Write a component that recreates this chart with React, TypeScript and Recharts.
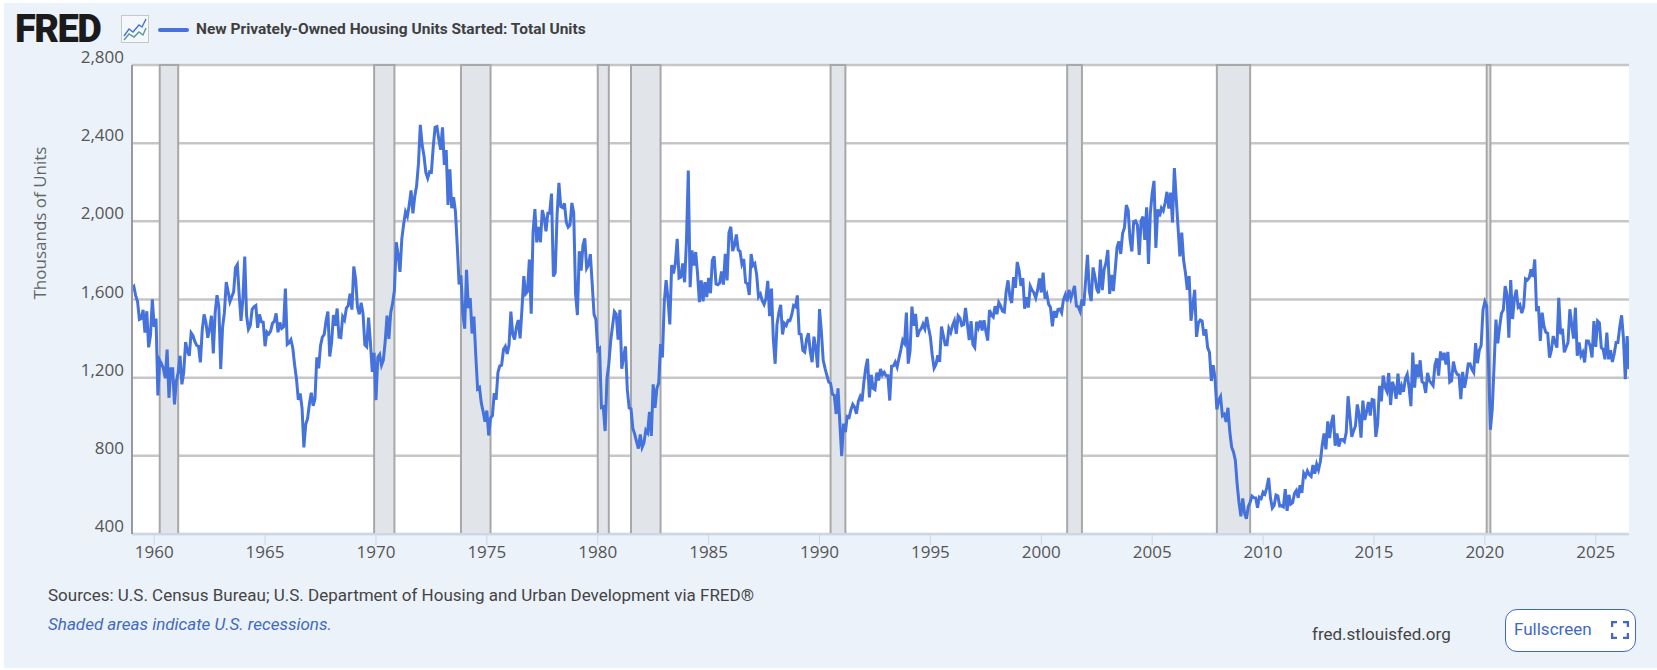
import React from 'react';
import { ComposedChart, Line, XAxis, YAxis, CartesianGrid, ReferenceArea } from 'recharts';

// monthly starts, thousands of units, Jan 1959 onward
const starts1950s = [1657, 1667, 1620, 1590, 1498, 1503, 1547, 1430, 1540, 1355, 1416, 1601];
const starts1960s = [
    1460, 1503, 1109, 1289, 1271, 1247, 1197, 1344, 1097, 1246, 1246, 1063,
    1183, 1226, 1312, 1166, 1228, 1382, 1335, 1312, 1429, 1415, 1385, 1365,
    1361, 1278, 1443, 1524, 1483, 1404, 1450, 1517, 1324, 1533, 1622, 1564,
    1244, 1456, 1534, 1689, 1641, 1588, 1614, 1639, 1763, 1779, 1622, 1491,
    1603, 1820, 1517, 1448, 1467, 1550, 1562, 1569, 1455, 1524, 1486, 1484,
    1361, 1433, 1423, 1438, 1478, 1488, 1529, 1432, 1482, 1452, 1460, 1656,
    1370, 1378, 1394, 1352, 1265, 1194, 1086, 1119, 1046, 843, 961, 990,
    1067, 1123, 1056, 1091, 1304, 1248, 1364, 1407, 1421, 1491, 1538, 1308,
    1380, 1520, 1466, 1554, 1408, 1405, 1512, 1495, 1556, 1569, 1630, 1548,
    1769, 1705, 1561, 1524, 1583, 1528, 1368, 1358, 1507, 1381, 1229, 1327,
];
const starts1970s = [
    1085, 1305, 1319, 1264, 1290, 1385, 1517, 1399, 1534, 1580, 1647, 1893,
    1828, 1741, 1910, 1986, 2049, 2026, 2083, 2158, 2041, 2128, 2182, 2295,
    2494, 2390, 2334, 2249, 2221, 2254, 2252, 2382, 2481, 2485, 2421, 2366,
    2481, 2289, 2365, 2084, 2266, 2067, 2123, 2051, 1874, 1677, 1724, 1526,
    1451, 1752, 1555, 1607, 1426, 1513, 1316, 1142, 1150, 1070, 1026, 975,
    1032, 904, 993, 1005, 1121, 1087, 1226, 1260, 1264, 1344, 1360, 1321,
    1367, 1538, 1421, 1395, 1459, 1495, 1401, 1550, 1720, 1629, 1641, 1804,
    1527, 1943, 2063, 1892, 1971, 1893, 2058, 2020, 1949, 2042, 2042, 2142,
    1718, 1738, 2032, 2197, 2075, 2070, 2092, 1996, 1970, 1981, 2094, 2044,
    1630, 1520, 1847, 1748, 1876, 1913, 1760, 1778, 1832, 1681, 1524, 1498,
];
const starts1980s = [
    1341, 1350, 1047, 1051, 927, 1196, 1269, 1387, 1463, 1538, 1526, 1395,
    1547, 1246, 1306, 1360, 1140, 1045, 1041, 940, 911, 873, 837, 910,
    843, 866, 931, 917, 1025, 902, 1166, 1046, 1144, 1173, 1372, 1303,
    1586, 1699, 1606, 1472, 1776, 1733, 1785, 1910, 1710, 1715, 1785, 1688,
    1897, 2260, 1663, 1851, 1774, 1843, 1732, 1586, 1698, 1590, 1689, 1612,
    1711, 1632, 1800, 1821, 1680, 1676, 1684, 1743, 1676, 1834, 1698, 1942,
    1972, 1848, 1876, 1933, 1854, 1847, 1782, 1807, 1687, 1681, 1623, 1833,
    1774, 1784, 1726, 1614, 1628, 1594, 1575, 1605, 1695, 1515, 1656, 1400,
    1271, 1473, 1532, 1573, 1421, 1478, 1467, 1493, 1492, 1522, 1569, 1563,
    1621, 1425, 1422, 1339, 1331, 1397, 1427, 1332, 1279, 1410, 1351, 1251,
];
const starts1990s = [
    1551, 1437, 1289, 1248, 1212, 1177, 1171, 1115, 1110, 1014, 1145, 969,
    798, 965, 921, 1001, 996, 1036, 1063, 1049, 1015, 1079, 1103, 1079,
    1176, 1250, 1297, 1099, 1214, 1145, 1139, 1226, 1186, 1244, 1214, 1227,
    1210, 1210, 1083, 1258, 1260, 1280, 1254, 1300, 1343, 1392, 1376, 1533,
    1272, 1337, 1564, 1465, 1526, 1409, 1439, 1450, 1474, 1450, 1511, 1455,
    1407, 1316, 1249, 1267, 1314, 1281, 1461, 1416, 1369, 1369, 1452, 1431,
    1467, 1491, 1424, 1516, 1504, 1467, 1472, 1557, 1475, 1392, 1489, 1370,
    1355, 1486, 1457, 1492, 1442, 1494, 1437, 1390, 1546, 1520, 1510, 1566,
    1525, 1584, 1567, 1540, 1536, 1641, 1698, 1614, 1582, 1715, 1660, 1792,
    1748, 1670, 1710, 1553, 1611, 1559, 1669, 1648, 1635, 1608, 1648, 1708,
];
const starts2000s = [
    1636, 1737, 1604, 1626, 1575, 1559, 1463, 1541, 1507, 1549, 1551, 1532,
    1600, 1625, 1590, 1649, 1605, 1636, 1670, 1567, 1562, 1540, 1602, 1568,
    1698, 1829, 1642, 1592, 1764, 1717, 1655, 1633, 1804, 1648, 1753, 1788,
    1853, 1629, 1726, 1643, 1751, 1867, 1897, 1833, 1939, 1967, 2083, 2057,
    1911, 1846, 1998, 2003, 1981, 1828, 2002, 2024, 1905, 2072, 1782, 2042,
    2144, 2207, 1864, 2061, 2025, 2068, 2054, 2095, 2151, 2065, 2147, 1994,
    2273, 2119, 1969, 1821, 1942, 1802, 1737, 1650, 1720, 1491, 1570, 1649,
    1409, 1480, 1495, 1490, 1415, 1448, 1354, 1330, 1183, 1264, 1197, 1037,
    1084, 1103, 1005, 1013, 973, 1046, 923, 844, 820, 777, 652, 560,
    490, 582, 505, 478, 540, 562, 594, 586, 585, 534, 588, 581,
];
const starts2010s = [
    614, 604, 636, 687, 585, 533, 546, 599, 594, 543, 545, 539,
    630, 518, 600, 553, 560, 608, 623, 585, 650, 610, 711, 694,
    723, 704, 695, 753, 708, 757, 728, 771, 854, 915, 833, 976,
    891, 969, 1010, 852, 915, 847, 883, 883, 873, 920, 1105, 1000,
    897, 928, 953, 1063, 1008, 893, 1083, 984, 1024, 1076, 1006, 1088,
    1085, 897, 964, 1158, 1079, 1211, 1152, 1130, 1224, 1060, 1179, 1149,
    1092, 1221, 1113, 1157, 1128, 1195, 1217, 1150, 1054, 1328, 1149, 1268,
    1203, 1289, 1179, 1172, 1122, 1225, 1185, 1172, 1159, 1265, 1299, 1210,
    1334, 1290, 1327, 1267, 1332, 1177, 1184, 1282, 1237, 1217, 1214, 1090,
    1230, 1149, 1199, 1270, 1271, 1242, 1226, 1377, 1274, 1340, 1365, 1547,
];
const starts2020s = [
    1589, 1567, 1269, 934, 1038, 1261, 1497, 1376, 1459, 1530, 1547, 1669,
    1625, 1405, 1700, 1500, 1605, 1650, 1562, 1573, 1530, 1563, 1706, 1700,
    1711, 1754, 1716, 1805, 1540, 1566, 1388, 1533, 1463, 1432, 1427, 1303,
    1340, 1413, 1380, 1354, 1609, 1422, 1451, 1330, 1356, 1380, 1550, 1470,
    1400, 1558, 1312, 1380, 1312, 1330, 1278, 1388, 1388, 1362, 1303, 1490,
    1358, 1490, 1480, 1354, 1345, 1294, 1430, 1294, 1340, 1280, 1322, 1380,
    1380, 1460, 1519, 1400, 1192, 1413, 1243,
];

const values = [...starts1950s, ...starts1960s, ...starts1970s, ...starts1980s, ...starts1990s, ...starts2000s, ...starts2010s, ...starts2020s];
const chartData = values.map((v, i) => ({ t: 1959 + i / 12, starts: v }));

const yTicks = [400, 800, 1200, 1600, 2000, 2400, 2800];
const xTicks = [1960, 1965, 1970, 1975, 1980, 1985, 1990, 1995, 2000, 2005, 2010, 2015, 2020, 2025];

const recessionStarts = [1960.25, 1969.917, 1973.833, 1980, 1981.5, 1990.5, 2001.167, 2007.917, 2020.083];
const recessionEnds = [1961.083, 1970.833, 1975.167, 1980.5, 1982.833, 1991.167, 2001.833, 2009.417, 2020.25];

const BLUE = '#4672dc';
const TICK_FONT = '"Open Sans"';

const YTick = ({ x, y, payload }: any) => (
    <text x={x} y={y - 8} dy={6} textAnchor="end" fontFamily={TICK_FONT} fontSize={17} fill="#555">
        {payload.value.toLocaleString('en-US')}
    </text>
);

const FredIcon = () => (
    <svg width={28} height={28} style={{ position: 'absolute', left: 121, top: 15 }}>
        <rect x={0.5} y={0.5} width={27} height={27} fill="#f4f7fb" stroke="#c4c8cc" />
        <polyline points="3,21 8,14 12,17 18,10 21,12 25,4" fill="none" stroke="#4672dc" strokeWidth={1.4} />
        <polyline points="3,25 8,19 13,22 18,17 22,20 25,13" fill="none" stroke="#5a9a8c" strokeWidth={1.4} />
    </svg>
);

const App: React.FC = () => {
    return (
        <div style={{ position: 'absolute', left: 0, top: 0, width: 1657, height: 670, background: '#fff', overflow: 'hidden' }}>
            <div style={{ position: 'absolute', left: 4, top: 3, width: 1653, height: 665, background: '#ebf2fa' }} />

            <div style={{ position: 'absolute', left: 132, top: 65, width: 1497, height: 469, background: '#fff' }} />

            <div style={{ position: 'absolute', left: 0, top: 0 }}>
                <ComposedChart width={1657} height={670} data={chartData} margin={{ top: 65, right: 28, bottom: 106, left: 72 }}>
                    {recessionStarts.map((s, i) => (
                        <ReferenceArea key={s} x1={s} x2={recessionEnds[i]} fill="#e1e5ea" fillOpacity={1} stroke="#a8a8a8" strokeWidth={2} />
                    ))}
                    <CartesianGrid vertical={false} stroke="#c6c6c6" strokeWidth={2.5} />
                    <XAxis
                        dataKey="t"
                        type="number"
                        domain={[1959, chartData[chartData.length - 1].t]}
                        ticks={xTicks}
                        height={30}
                        tickSize={11}
                        tickMargin={1}
                        stroke="#ccd6eb"
                        tick={{ fontFamily: TICK_FONT, fontSize: 17, fill: '#555' }}
                        axisLine={{ stroke: '#ccd6eb', strokeWidth: 2 }}
                        allowDataOverflow
                    />
                    <YAxis
                        domain={[400, 2800]}
                        ticks={yTicks}
                        width={60}
                        tick={YTick}
                        tickLine={false}
                        axisLine={{ stroke: '#999', strokeWidth: 2 }}
                        label={{ value: 'Thousands of Units', angle: -90, position: 'insideLeft', offset: 0, fontFamily: TICK_FONT, fontSize: 17, fill: '#666', dx: -32 }}
                    />
                    <Line dataKey="starts" stroke={BLUE} strokeWidth={3} dot={false} isAnimationActive={false} />
                </ComposedChart>
            </div>

            {/* header */}
            <div style={{ position: 'absolute', left: 15, top: 11, fontFamily: 'Roboto', fontWeight: 900, fontSize: 38, lineHeight: '36px', color: '#1b1b1b', letterSpacing: -1.5 }}>FRED</div>
            <FredIcon />
            <div style={{ position: 'absolute', left: 158, top: 28, width: 31, height: 4, background: BLUE, borderRadius: 2 }} />
            <div style={{ position: 'absolute', left: 196, top: 18, fontFamily: 'Roboto', fontWeight: 700, fontSize: 15.5, lineHeight: '22px', color: '#3f3f3f', whiteSpace: 'nowrap' }}>
                New Privately-Owned Housing Units Started: Total Units
            </div>

            {/* footer */}
            <div style={{ position: 'absolute', left: 48, top: 583, fontFamily: 'Roboto', fontSize: 17, lineHeight: '24px', color: '#444', whiteSpace: 'nowrap' }}>
                Sources: U.S. Census Bureau; U.S. Department of Housing and Urban Development via FRED®
            </div>
            <div style={{ position: 'absolute', left: 48, top: 612, fontFamily: 'Roboto', fontStyle: 'italic', fontSize: 17, lineHeight: '24px', color: '#4169c4', whiteSpace: 'nowrap' }}>
                Shaded areas indicate U.S. recessions.
            </div>
            <div style={{ position: 'absolute', left: 1312, top: 622, fontFamily: 'Roboto', fontSize: 17, lineHeight: '24px', color: '#444', whiteSpace: 'nowrap' }}>
                fred.stlouisfed.org
            </div>
            <div style={{ position: 'absolute', left: 1505, top: 609, width: 131, height: 43, boxSizing: 'border-box', background: '#fff', border: '1px solid #4169c4', borderRadius: 12, fontFamily: 'Roboto', fontSize: 17, lineHeight: '39px', color: '#4169c4', paddingLeft: 8, whiteSpace: 'nowrap' }}>
                Fullscreen
                <svg width={18} height={18} style={{ position: 'absolute', left: 105, top: 11 }}>
                    <path d="M1 6V1H6M12 1H17V6M17 12V17H12M6 17H1V12" fill="none" stroke="#4169c4" strokeWidth={2.5} />
                </svg>
            </div>
        </div>
    );
};

export default App;
